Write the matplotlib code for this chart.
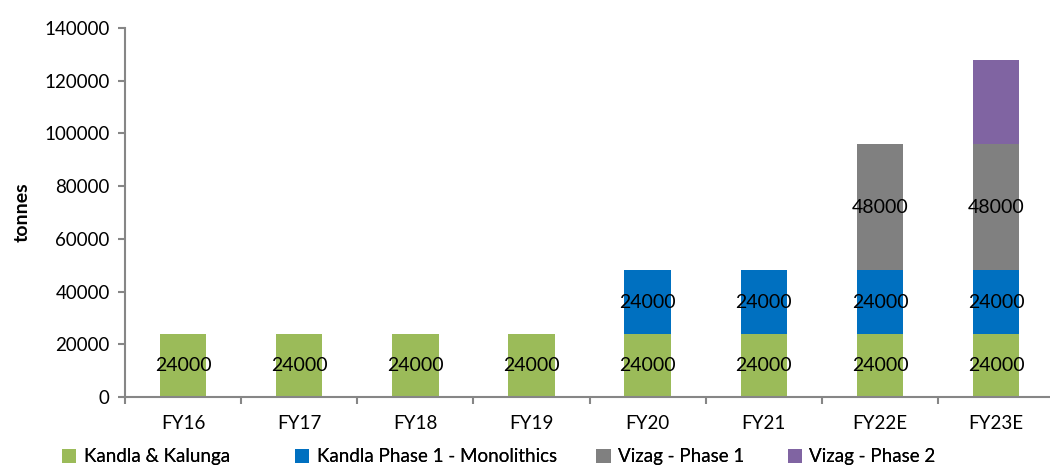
import matplotlib.pyplot as plt
import numpy as np

years = ['FY16', 'FY17', 'FY18', 'FY19', 'FY20', 'FY21', 'FY22E', 'FY23E']
kandla_kalunga = [24000, 24000, 24000, 24000, 24000, 24000, 24000, 24000]
kandla_mono = [0, 0, 0, 0, 24000, 24000, 24000, 24000]
vizag_1 = [0, 0, 0, 0, 0, 0, 48000, 48000]
vizag_2 = [0, 0, 0, 0, 0, 0, 0, 32000]

series = [
    ('Kandla & Kalunga', kandla_kalunga, '#9BBB59', True),
    ('Kandla Phase 1 - Monolithics', kandla_mono, '#0070C0', True),
    ('Vizag - Phase 1', vizag_1, '#808080', True),
    ('Vizag - Phase 2', vizag_2, '#8064A2', False),
]

plt.rcParams['font.family'] = ['Lato', 'DejaVu Sans']

fig = plt.figure(figsize=(10.5, 4.66), dpi=100)
ax = fig.add_axes([0.119, 0.148, 0.885, 0.792])

x = np.arange(len(years))
bottom = np.zeros(len(years))
handles = []
for name, vals, color, show in series:
    vals = np.array(vals)
    bars = ax.bar(x, vals, 0.4, bottom=bottom, color=color, label=name)
    handles.append(bars)
    if show:
        for xi, b, v in zip(x, bottom, vals):
            if v > 0:
                ax.text(xi, b + v / 2, str(v), ha='center', va='center',
                        fontsize=14, color='black')
    bottom += vals

ax.set_xlim(-0.5, len(years) - 0.5)
ax.set_ylim(0, 140000)
ax.set_yticks(range(0, 140001, 20000))
ax.set_xticks(x)
ax.set_xticklabels(years)
ax.set_xticks(np.arange(-0.5, len(years), 1), minor=True)
ax.tick_params(axis='x', which='major', length=0, pad=13, labelsize=13.5)
ax.tick_params(axis='x', which='minor', length=5, color='#868686', width=1.5)
ax.tick_params(axis='y', length=5, color='#868686', width=1.5, labelsize=13.5, pad=6)
for s in ['top', 'right']:
    ax.spines[s].set_visible(False)
for s in ['left', 'bottom']:
    ax.spines[s].set_color('#868686')
    ax.spines[s].set_linewidth(1.5)
ax.set_ylabel('tonnes', fontsize=14, fontweight='bold', labelpad=10)

# legend entries placed individually, like the Excel original
leg_x = [0.043, 0.265, 0.552, 0.734]
for h, (name, _, _, _), lx in zip(handles, series, leg_x):
    leg = fig.legend([h], [name], loc='lower left', bbox_to_anchor=(lx, -0.035),
                     frameon=False, fontsize=13.5, handlelength=0.75,
                     handleheight=0.75, handletextpad=0.4)
    fig.add_artist(leg)

fig.savefig('out.png')
